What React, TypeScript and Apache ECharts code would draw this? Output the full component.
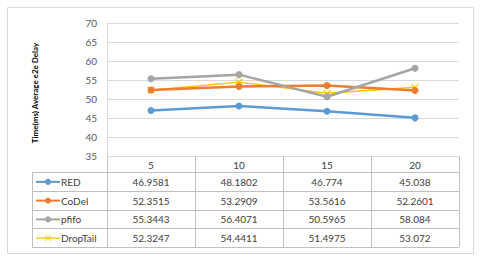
import React, { useEffect, useRef } from "react";
import * as echarts from "echarts";

const categories = ["5", "10", "15", "20"];
const seriesNames = ["RED", "CoDel", "pfifo", "DropTail"];
const redValues = [46.9581, 48.1802, 46.774, 45.038];
const codelValues = [52.3515, 53.2909, 53.5616, 52.2601];
const pfifoValues = [55.3443, 56.4071, 50.5965, 58.084];
const droptailValues = [52.3247, 54.4411, 51.4975, 53.072];
const colors = ["#5B9BD5", "#ED7D31", "#A5A5A5", "#FFC000"];
const yTitle = "Time(ms) Average e2e Delay";

const FONT = "Lato, 'Open Sans', sans-serif";
const XMARK = "path://M0,0L10,10M10,0L0,10";

export default function App() {
  const ref = useRef<HTMLDivElement>(null);
  useEffect(() => {
    document.body.style.margin = "0";
    const chart = echarts.init(ref.current!, null, { renderer: "svg" });
    const allValues = [redValues, codelValues, pfifoValues, droptailValues];

    const plotLeft = 107, plotRight = 459, plotTop = 23, plotBottom = 156;
    const tableLeft = 32, headerBottom = 172, rowH = 18.75;
    const colW = (plotRight - plotLeft) / categories.length;
    const tableBottom = headerBottom + rowH * seriesNames.length;
    const lineColor = "#BFBFBF";
    const textColor = "#404040";

    const g: any[] = [];
    g.push({ type: "rect", shape: { x: 7.5, y: 7.5, width: 466, height: 246 }, style: { fill: "none", stroke: "#D9D9D9", lineWidth: 1 }, silent: true });
    g.push({ type: "text", x: 35, y: 93, rotation: Math.PI / 2, style: { text: yTitle, font: `bold 8px ${FONT}`, fill: "#000", align: "center", verticalAlign: "middle" } });
    const hl = (x1: number, x2: number, y: number) => g.push({ type: "line", shape: { x1, y1: y, x2, y2: y }, style: { stroke: lineColor, lineWidth: 1 } });
    const vl = (x: number, y1: number, y2: number) => g.push({ type: "line", shape: { x1: x, y1, x2: x, y2 }, style: { stroke: lineColor, lineWidth: 1 } });
    hl(plotLeft, plotRight, plotBottom + 0.5);
    for (let i = 0; i <= seriesNames.length; i++) hl(tableLeft, plotRight, Math.round(headerBottom + i * rowH) + 0.5);
    vl(tableLeft + 0.5, headerBottom, tableBottom);
    for (let k = 0; k <= categories.length; k++) vl(Math.round(plotLeft + k * colW) + 0.5, plotBottom, tableBottom);
    categories.forEach((c, k) => {
      g.push({ type: "text", x: plotLeft + (k + 0.5) * colW, y: (plotBottom + headerBottom) / 2 + 0.5, style: { text: c, font: `10px ${FONT}`, fill: textColor, align: "center", verticalAlign: "middle" } });
    });
    seriesNames.forEach((name, i) => {
      const cy = headerBottom + (i + 0.5) * rowH + 0.5;
      g.push({ type: "line", shape: { x1: 36, y1: cy, x2: 60, y2: cy }, style: { stroke: colors[i], lineWidth: i === 3 ? 1.3 : 2 } });
      if (i === 3) {
        g.push({ type: "line", shape: { x1: 45, y1: cy - 3, x2: 51, y2: cy + 3 }, style: { stroke: colors[i], lineWidth: 1 } });
        g.push({ type: "line", shape: { x1: 45, y1: cy + 3, x2: 51, y2: cy - 3 }, style: { stroke: colors[i], lineWidth: 1 } });
      } else {
        g.push({ type: "circle", shape: { cx: 48, cy, r: 3 }, style: { fill: colors[i] } });
      }
      g.push({ type: "text", x: 61, y: cy, style: { text: name, font: `10px ${FONT}`, fill: textColor, align: "left", verticalAlign: "middle" } });
      allValues[i].forEach((v, k) => {
        g.push({ type: "text", x: plotLeft + (k + 0.5) * colW, y: cy, style: { text: String(v), font: `10px ${FONT}`, fill: textColor, align: "center", verticalAlign: "middle" } });
      });
    });

    chart.setOption({
      animation: false,
      backgroundColor: "#fff",
      grid: { left: plotLeft, top: plotTop, width: plotRight - plotLeft, height: plotBottom - plotTop },
      xAxis: {
        type: "category",
        data: categories,
        boundaryGap: true,
        axisLine: { show: false },
        axisTick: { show: false },
        axisLabel: { show: false },
      },
      yAxis: {
        type: "value",
        min: 35,
        max: 70,
        interval: 5,
        axisLine: { show: true, lineStyle: { color: "#D9D9D9" } },
        axisTick: { show: false },
        axisLabel: { color: "#595959", fontSize: 10, fontFamily: FONT, margin: 10 },
        splitLine: { lineStyle: { color: "#D9D9D9" } },
      },
      series: seriesNames.map((name, i) => ({
        name,
        type: "line",
        data: allValues[i],
        color: colors[i],
        symbol: i === 3 ? XMARK : "circle",
        symbolSize: i === 3 ? 7 : 7,
        showSymbol: true,
        lineStyle: { width: i === 3 ? 1.5 : 2.5, color: colors[i] },
        itemStyle: i === 3 ? { color: "none", borderColor: colors[i], borderWidth: 1.2 } : { color: colors[i] },
        z: i === 3 ? 1 : 2,
      })),
      graphic: g,
    });
    return () => chart.dispose();
  }, []);
  return <div ref={ref} style={{ position: "fixed", left: 0, top: 0, width: 480, height: 258 }} />;
}
